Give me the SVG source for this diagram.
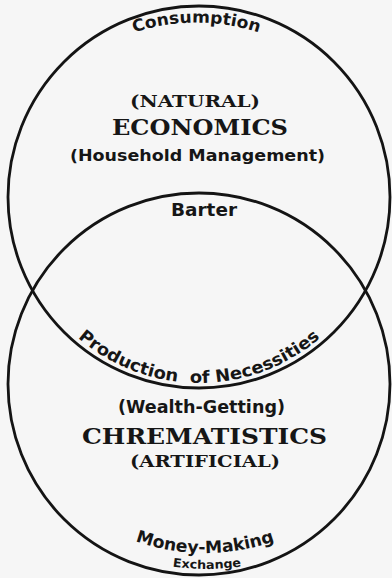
<svg xmlns="http://www.w3.org/2000/svg" width="392" height="578" viewBox="0 0 392 578">
  <defs>
    <style>
      .ring { fill: none; stroke: #141414; stroke-width: 2.8; }
      .sans { font-family: "DejaVu Sans", "Liberation Sans", sans-serif; font-weight: bold; fill: #161616; }
      .serif { font-family: "DejaVu Serif", "Liberation Serif", serif; font-weight: bold; fill: #161616; }
    </style>
    <path id="p-consumption" d="M 106.5 44 A 200 200 0 0 1 286.5 44"/>
    <path id="p-production" d="M 57.3 316.9 A 185 185 0 0 0 340.7 316.9"/>
    <path id="p-money" d="M 95 521.9 A 210 210 0 0 0 315 521.9"/>
    <path id="p-exchange" d="M 107 548 A 250 250 0 0 0 307 548"/>
  </defs>
  <rect x="0" y="0" width="392" height="578" fill="#f6f6f6"/>

  <g id="economics">
    <circle class="ring" cx="199" cy="197" r="191"/>
    <text class="sans" font-size="16.5"><textPath href="#p-consumption" startOffset="50%" text-anchor="middle" textLength="127" lengthAdjust="spacingAndGlyphs">Consumption</textPath></text>
    <text class="serif" x="195" y="107" font-size="17" text-anchor="middle" textLength="130" lengthAdjust="spacingAndGlyphs">(NATURAL)</text>
    <text class="serif" x="200" y="135" font-size="21.5" text-anchor="middle" textLength="176" lengthAdjust="spacingAndGlyphs">ECONOMICS</text>
    <text class="sans" x="197.5" y="161" font-size="16" text-anchor="middle" textLength="255" lengthAdjust="spacingAndGlyphs">(Household Management)</text>
  </g>

  <g id="chrematistics">
    <circle class="ring" cx="199" cy="384" r="191"/>
    <text class="sans" x="204" y="216" font-size="17" text-anchor="middle" textLength="66" lengthAdjust="spacingAndGlyphs">Barter</text>
    <text class="sans" x="201.5" y="413" font-size="17" text-anchor="middle" textLength="167" lengthAdjust="spacingAndGlyphs">(Wealth-Getting)</text>
    <text class="serif" x="204.5" y="444" font-size="22" text-anchor="middle" textLength="245" lengthAdjust="spacingAndGlyphs">CHREMATISTICS</text>
    <text class="serif" x="205" y="467" font-size="17" text-anchor="middle" textLength="150" lengthAdjust="spacingAndGlyphs">(ARTIFICIAL)</text>
    <text class="sans" font-size="17"><textPath href="#p-money" startOffset="50%" text-anchor="middle" textLength="142" lengthAdjust="spacingAndGlyphs">Money-Making</textPath></text>
    <text class="sans" font-size="12" font-weight="normal"><textPath href="#p-exchange" startOffset="50%" text-anchor="middle" textLength="69" lengthAdjust="spacingAndGlyphs">Exchange</textPath></text>
  </g>

  <g id="overlap">
    <text class="sans" font-size="17"><textPath href="#p-production" startOffset="50%" text-anchor="middle" textLength="264" lengthAdjust="spacingAndGlyphs" xml:space="preserve">Production  of Necessities</textPath></text>
  </g>

  <g id="connectors"/>
</svg>
